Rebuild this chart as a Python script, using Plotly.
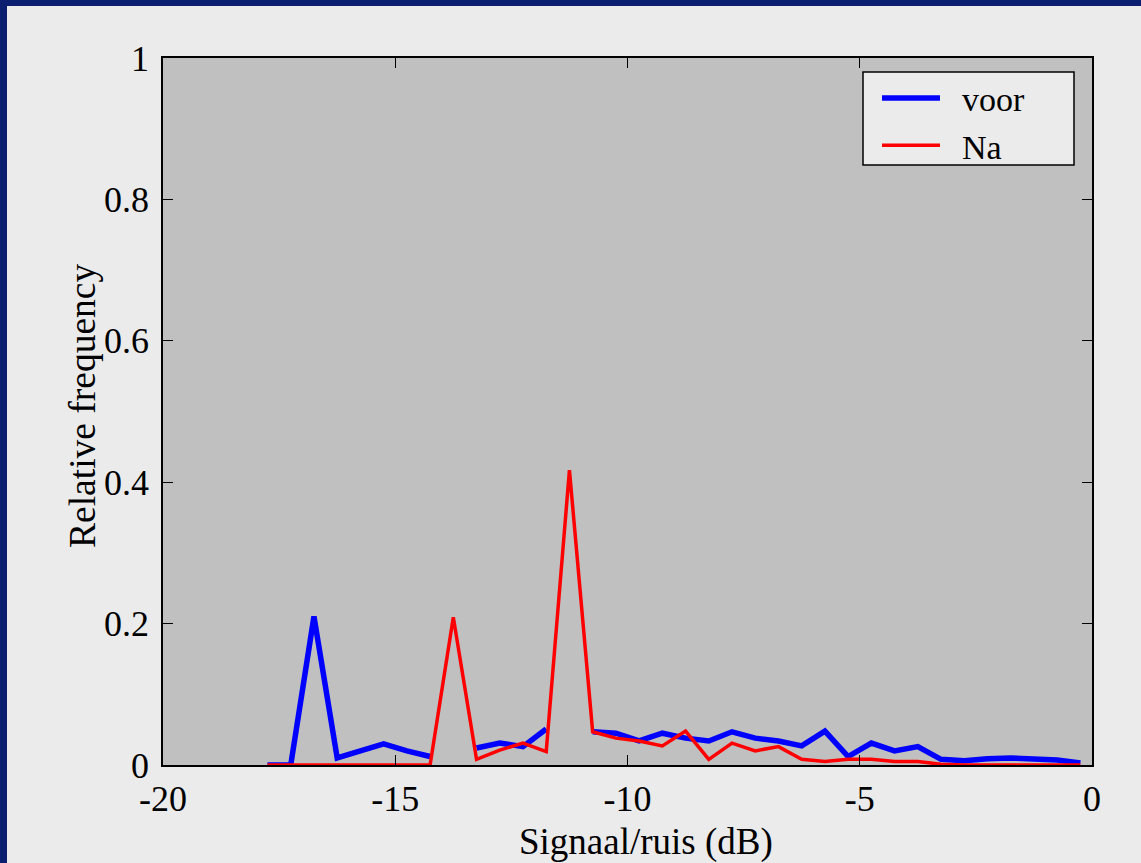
import plotly.graph_objects as go

# Signal/noise bin centres (dB)
snr_db = [-17.75 + 0.5 * i for i in range(36)]

# Relative frequency, "voor" (before) - gaps where no data drawn
voor = [0, 0, 0.21, 0.01, 0.02, 0.03, 0.02, 0.012, None, 0.024,
        0.031, 0.026, 0.051, None, 0.047, 0.045, 0.034, 0.045, 0.038, 0.034,
        0.047, 0.038, 0.034, 0.027, 0.048, 0.012, 0.031, 0.02, 0.026, 0.008,
        0.006, 0.009, 0.01, 0.008, 0.007, 0.003]

# Relative frequency, "Na" (after)
na = [0, 0, 0, 0, 0, 0, 0, 0, 0.209, 0.008,
      0.021, 0.031, 0.019, 0.417, 0.047, 0.038, 0.034, 0.027, 0.048, 0.008,
      0.031, 0.02, 0.026, 0.008, 0.005, 0.008, 0.008, 0.005, 0.005, 0.001,
      0, 0, 0, 0, 0, 0]

x_tick_vals = [-20, -15, -10, -5, 0]
x_tick_text = ["-20", "-15", "-10", "-5", "0"]
y_tick_vals = [0, 0.2, 0.4, 0.6, 0.8, 1]
y_tick_text = ["0", "0.2", "0.4", "0.6", "0.8", "1"]

x_title = "Signaal/ruis (dB)"
y_title = "Relative frequency"

FONT = "Liberation Serif, Times New Roman, serif"

fig = go.Figure()
fig.add_trace(go.Scatter(x=snr_db, y=voor, mode="lines", name="\u00a0\u00a0voor",
                         line=dict(color="#0000ff", width=5.5), connectgaps=False))
fig.add_trace(go.Scatter(x=snr_db, y=na, mode="lines", name="\u00a0\u00a0Na",
                         line=dict(color="#ff0000", width=3.5)))

L, R, T, B = 163, 49, 58, 98
W, H = 1141, 863
pw, ph = W - L - R, H - T - B

def px_x(p):
    return (p - L) / pw

def px_y(p):
    return (H - B - p) / ph

navy = "#0b1f70"
fig.add_shape(type="rect", xref="paper", yref="paper",
              x0=px_x(0), x1=px_x(7), y0=px_y(H), y1=px_y(0),
              fillcolor=navy, line_width=0, layer="below")
fig.add_shape(type="rect", xref="paper", yref="paper",
              x0=px_x(0), x1=px_x(W), y0=px_y(6), y1=px_y(0),
              fillcolor=navy, line_width=0, layer="below")
# legend frame
fig.add_shape(type="rect", xref="paper", yref="paper",
              x0=px_x(863), x1=px_x(1074), y0=px_y(165), y1=px_y(72),
              fillcolor="#ebebeb", line=dict(color="black", width=1.5),
              layer="above")

fig.add_annotation(text=x_title, xref="paper", yref="paper",
                   x=px_x(646), y=px_y(842), xanchor="center", yanchor="middle",
                   showarrow=False, font=dict(family=FONT, size=37))
fig.add_annotation(text=y_title, xref="paper", yref="paper", textangle=-90,
                   x=px_x(82), y=px_y(406), xanchor="center", yanchor="middle",
                   showarrow=False, font=dict(family=FONT, size=37.5))

fig.update_layout(
    width=W, height=H,
    margin=dict(l=L, r=R, t=T, b=B, autoexpand=False),
    paper_bgcolor="#ebebeb",
    plot_bgcolor="#c0c0c0",
    font=dict(family=FONT, size=36, color="black"),
    showlegend=True,
    legend=dict(x=px_x(877), y=px_y(122), xanchor="left", yanchor="middle",
                bgcolor="rgba(0,0,0,0)", borderwidth=0,
                font=dict(family=FONT, size=34), itemwidth=58,
                tracegroupgap=0),
    xaxis=dict(range=[-20, 0], tickvals=x_tick_vals, ticktext=x_tick_text,
               ticks="inside", ticklen=10, tickcolor="black", tickwidth=1,
               showline=True, linecolor="black", linewidth=1.5, mirror="ticks",
               showgrid=False, zeroline=False, ticklabelstandoff=1,
               automargin=False),
    yaxis=dict(range=[0, 1], tickvals=y_tick_vals, ticktext=y_tick_text,
               ticks="inside", ticklen=10, tickcolor="black", tickwidth=1,
               showline=True, linecolor="black", linewidth=1.5, mirror="ticks",
               showgrid=False, zeroline=False, ticklabelstandoff=5,
               automargin=False),
)

fig.write_html("out.html")
